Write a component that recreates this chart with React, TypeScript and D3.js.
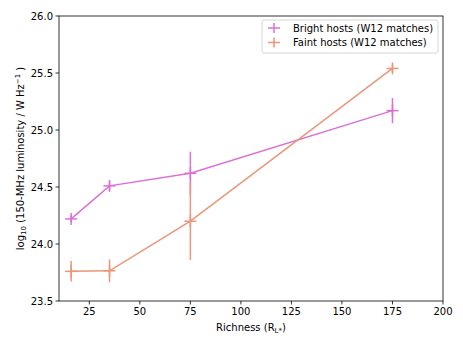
import React from "react";
import { scaleLinear, line } from "d3";

const richness = [16, 35, 75, 175];
const brightLum = [24.22, 24.51, 24.62, 25.17];
const brightErr = [0.03, 0.04, 0.19, 0.11];
const faintLum = [23.76, 23.765, 24.2, 25.54];
const faintErr = [0.09, 0.1, 0.34, 0.035];
const xTicks = [25, 50, 75, 100, 125, 150, 175, 200];
const yTicks = [23.5, 24.0, 24.5, 25.0, 25.5, 26.0];
const seriesNames = ["Bright hosts (W12 matches)", "Faint hosts (W12 matches)"];
const colors = ["#da70d6", "#e9967a"];

const App = () => {
  const width = 463;
  const height = 347;
  const left = 59;
  const right = 443;
  const top = 16;
  const bottom = 301;
  const font = "DejaVu Sans, sans-serif";
  const m = 6;

  const xScale = scaleLinear().domain([10, 200]).range([left, right]);
  const yScale = scaleLinear().domain([23.5, 26]).range([bottom, top]);

  const series = [
    { vals: brightLum, errs: brightErr },
    { vals: faintLum, errs: faintErr },
  ];

  const path = line<number>()
    .x((_, i) => xScale(richness[i]))
    .y((d) => yScale(d));

  return (
    <svg
      width={width}
      height={height}
      style={{ position: "absolute", left: 0, top: 0, background: "#fff" }}
      fontFamily={font}
    >
      {series.map((s, k) => (
        <g key={k} stroke={colors[k]} strokeWidth={1.5} fill="none">
          <path d={path(s.vals) || ""} />
          {s.vals.map((v, i) => {
            const cx = xScale(richness[i]);
            const cy = yScale(v);
            return (
              <g key={i}>
                <line x1={cx} x2={cx} y1={yScale(v - s.errs[i])} y2={yScale(v + s.errs[i])} />
                <line x1={cx} x2={cx} y1={cy - m} y2={cy + m} />
                <line x1={cx - m} x2={cx + m} y1={cy} y2={cy} />
              </g>
            );
          })}
        </g>
      ))}

      <rect
        x={left}
        y={top}
        width={right - left}
        height={bottom - top}
        fill="none"
        stroke="#000"
        strokeWidth={0.8}
      />

      {xTicks.map((t) => (
        <g key={t}>
          <line x1={xScale(t)} x2={xScale(t)} y1={bottom} y2={bottom + 3.5} stroke="#000" strokeWidth={0.8} />
          <text x={xScale(t)} y={bottom + 14} fontSize={10} textAnchor="middle" fill="#000">
            {t}
          </text>
        </g>
      ))}
      {yTicks.map((t) => (
        <g key={t}>
          <line x1={left - 3.5} x2={left} y1={yScale(t)} y2={yScale(t)} stroke="#000" strokeWidth={0.8} />
          <text x={left - 6} y={yScale(t) + 3.5} fontSize={10} textAnchor="end" fill="#000">
            {t.toFixed(1)}
          </text>
        </g>
      ))}

      <text x={(left + right) / 2} y={331} fontSize={10} textAnchor="middle" fill="#000">
        Richness (R<tspan fontSize={7} dy={2}>L*</tspan><tspan dy={-2}>)</tspan>
      </text>
      <text
        transform={`translate(24, ${(top + bottom) / 2}) rotate(-90)`}
        fontSize={10}
        textAnchor="middle"
        fill="#000"
      >
        log<tspan fontSize={7} dy={2}>10</tspan>
        <tspan dy={-2}> (150-MHz luminosity / W Hz</tspan>
        <tspan fontSize={7} dy={-4}>−1</tspan>
        <tspan dy={4}> )</tspan>
      </text>

      <g>
        <rect x={262} y={20} width={176} height={33} rx={2} fill="#fff" stroke="#ccc" strokeWidth={0.8} />
        {seriesNames.map((n, k) => {
          const ly = 28 + k * 14.5;
          return (
            <g key={n}>
              <line x1={274} x2={274} y1={ly - 5} y2={ly + 5} stroke={colors[k]} strokeWidth={1.5} />
              <line x1={268} x2={280} y1={ly} y2={ly} stroke={colors[k]} strokeWidth={1.5} />
              <text x={293} y={ly + 3.5} fontSize={10} fill="#000">
                {n}
              </text>
            </g>
          );
        })}
      </g>
    </svg>
  );
};

export default App;
